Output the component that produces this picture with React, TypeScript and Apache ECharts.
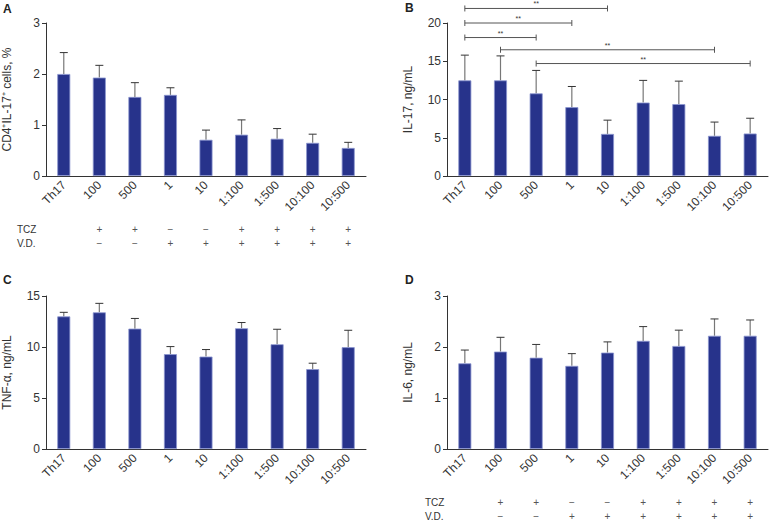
import React, { useEffect, useRef } from "react";
import * as echarts from "echarts";

const categories = ["Th17", "100", "500", "1", "10", "1:100", "1:500", "10:100", "10:500"];
const cd4Mean = [2.0, 1.93, 1.55, 1.59, 0.71, 0.81, 0.73, 0.65, 0.55];
const cd4SD = [0.42, 0.24, 0.28, 0.14, 0.19, 0.29, 0.2, 0.17, 0.11];
const il17Mean = [12.5, 12.5, 10.8, 9.0, 5.5, 9.6, 9.4, 5.25, 5.55];
const il17SD = [3.3, 3.2, 3.0, 2.7, 1.8, 2.9, 3.0, 1.8, 2.0];
const tnfMean = [13.0, 13.4, 11.8, 9.3, 9.06, 11.84, 10.27, 7.83, 9.98];
const tnfSD = [0.4, 0.88, 1.0, 0.74, 0.69, 0.56, 1.47, 0.58, 1.66];
const il6Mean = [1.68, 1.91, 1.79, 1.63, 1.89, 2.12, 2.02, 2.22, 2.22];
const il6SD = [0.26, 0.28, 0.26, 0.24, 0.21, 0.28, 0.31, 0.33, 0.31];
const tczSigns = ["", "+", "+", "\u2212", "\u2212", "+", "+", "+", "+"];
const vdSigns = ["", "\u2212", "\u2212", "+", "+", "+", "+", "+", "+"];
// [from category, to category, y level]
const il17Brackets = [
  [0, 4, 21.9],
  [0, 3, 20],
  [0, 2, 18.1],
  [1, 7, 16.5],
  [2, 8, 14.7],
];

const FONT = "Liberation Sans, Arial, sans-serif";
const BAR = "#27338b";
const AXIS = "#333";

export default function App() {
  const ref = useRef<HTMLDivElement>(null);
  useEffect(() => {
    if (!ref.current) return;
    const chart = echarts.init(ref.current, null, { renderer: "svg" });

    const grids = [
      { left: 45, top: 23, width: 321, height: 153 },
      { left: 447, top: 23, width: 321, height: 153 },
      { left: 45, top: 296, width: 321, height: 153 },
      { left: 447, top: 296, width: 321, height: 153 },
    ];
    const yDefs = [
      { name: "CD4\u207AIL-17\u207A cells, %", max: 3, interval: 1 },
      { name: "IL-17, ng/mL", max: 20, interval: 5 },
      { name: "TNF-\u03B1, ng/mL", max: 15, interval: 5 },
      { name: "IL-6, ng/mL", max: 3, interval: 1 },
    ];
    const means = [cd4Mean, il17Mean, tnfMean, il6Mean];
    const sds = [cd4SD, il17SD, tnfSD, il6SD];

    const xAxis = grids.map((_, i) => ({
      type: "category",
      gridIndex: i,
      data: categories,
      boundaryGap: true,
      axisLine: { lineStyle: { color: AXIS, width: 1 } },
      axisTick: { length: 5, lineStyle: { color: AXIS } },
      axisLabel: { rotate: 45, fontSize: 12, color: "#333", fontFamily: FONT, margin: 7, interval: 0 },
      splitLine: { show: false },
    }));
    const yAxis = yDefs.map((d, i) => ({
      type: "value",
      gridIndex: i,
      min: 0,
      max: d.max,
      interval: d.interval,
      name: d.name,
      nameLocation: "middle",
      nameRotate: 90,
      nameGap: 33,
      nameTextStyle: { fontSize: 12, color: "#333", fontFamily: FONT },
      axisLine: { show: true, lineStyle: { color: AXIS, width: 1 } },
      axisTick: { show: true, length: 4, lineStyle: { color: AXIS } },
      axisLabel: { fontSize: 12, color: "#333", fontFamily: FONT, margin: 6 },
      splitLine: { show: false },
    }));

    const series: any[] = [];
    means.forEach((m, i) => {
      series.push({
        type: "bar",
        xAxisIndex: i,
        yAxisIndex: i,
        data: m,
        barWidth: 13,
        itemStyle: { color: BAR, borderColor: "#8c96cf", borderWidth: 0.8 },
      });
      series.push({
        type: "custom",
        xAxisIndex: i,
        yAxisIndex: i,
        encode: { x: 0, y: [1, 2] },
        data: m.map((v, k) => [k, v, v + sds[i][k]]),
        itemStyle: { color: "#777" },
        z: 1,
        renderItem: (params: any, api: any) => {
          const x = api.value(0);
          const p1 = api.coord([x, api.value(1)]);
          const p2 = api.coord([x, api.value(2)]);
          return {
            type: "group",
            children: [
              { type: "line", shape: { x1: p1[0], y1: p1[1], x2: p2[0], y2: p2[1] }, style: { stroke: "#777", lineWidth: 1.2 } },
              { type: "line", shape: { x1: p2[0] - 4, y1: p2[1], x2: p2[0] + 4, y2: p2[1] }, style: { stroke: "#333", lineWidth: 1 } },
            ],
          };
        },
      });
    });

    // significance brackets on panel B
    series.push({
      type: "custom",
      xAxisIndex: 1,
      yAxisIndex: 1,
      encode: { x: [0, 1], y: 2 },
      data: il17Brackets,
      clip: false,
      itemStyle: { color: "#333" },
      renderItem: (params: any, api: any) => {
        const a = api.coord([api.value(0), api.value(2)]);
        const b = api.coord([api.value(1), api.value(2)]);
        const st = { stroke: "#555", lineWidth: 1 };
        return {
          type: "group",
          children: [
            { type: "line", shape: { x1: a[0], y1: a[1], x2: b[0], y2: b[1] }, style: st },
            { type: "line", shape: { x1: a[0], y1: a[1] - 3, x2: a[0], y2: a[1] + 3 }, style: st },
            { type: "line", shape: { x1: b[0], y1: b[1] - 3, x2: b[0], y2: b[1] + 3 }, style: st },
            {
              type: "text",
              x: (a[0] + b[0]) / 2,
              y: a[1] - 1,
              style: { text: "**", fontSize: 7, fill: "#333", align: "center", verticalAlign: "bottom", fontFamily: FONT },
            },
          ],
        };
      },
    });

    // TCZ / V.D. sign rows under panels A and D
    [0, 3].forEach((gi) => {
      series.push({
        type: "custom",
        xAxisIndex: gi,
        yAxisIndex: gi,
        encode: { x: 0, y: 1 },
        data: categories.map((_, k) => [k, 0]),
        clip: false,
        itemStyle: { color: "#555" },
        renderItem: (params: any, api: any) => {
          const p = api.coord([api.value(0), 0]);
          const k = params.dataIndex;
          const ts = { fontSize: 10, fill: "#555", align: "center", verticalAlign: "middle", fontFamily: FONT };
          return {
            type: "group",
            children: [
              { type: "text", x: p[0], y: p[1] + 53, style: { ...ts, text: tczSigns[k] } },
              { type: "text", x: p[0], y: p[1] + 67, style: { ...ts, text: vdSigns[k] } },
            ],
          };
        },
      });
    });

    const rowLabel = { fontSize: 10, fill: "#333", fontFamily: FONT, verticalAlign: "middle" };
    const letter = { fontSize: 12, fontWeight: "bold", fill: "#222", fontFamily: FONT, verticalAlign: "top" };

    chart.setOption({
      animation: false,
      backgroundColor: "#fff",
      grid: grids,
      xAxis,
      yAxis,
      series,
      graphic: [
        { type: "text", left: 3, top: 3, style: { ...letter, text: "A" } },
        { type: "text", left: 405, top: 2, style: { ...letter, text: "B" } },
        { type: "text", left: 3, top: 274, style: { ...letter, text: "C" } },
        { type: "text", left: 405, top: 274, style: { ...letter, text: "D" } },
        { type: "text", x: 17, y: 229, style: { ...rowLabel, text: "TCZ" } },
        { type: "text", x: 17, y: 243, style: { ...rowLabel, text: "V.D." } },
        { type: "text", x: 425, y: 502.5, style: { ...rowLabel, text: "TCZ" } },
        { type: "text", x: 425, y: 516.5, style: { ...rowLabel, text: "V.D." } },
      ],
    });
    return () => chart.dispose();
  }, []);
  return <div ref={ref} style={{ position: "absolute", left: 0, top: 0, width: 770, height: 521 }} />;
}
